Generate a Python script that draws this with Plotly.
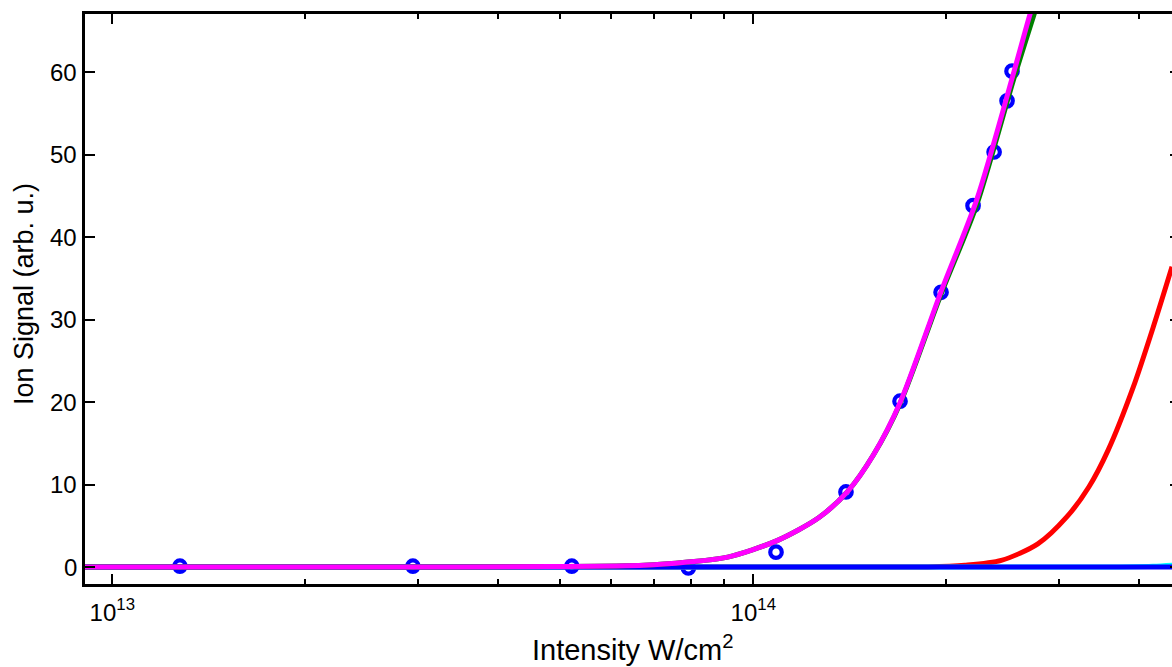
import plotly.graph_objects as go

# ---------------- data ----------------
meas_intensity = [1.275e13, 2.944e13, 5.21e13, 7.92e13, 1.085e14, 1.395e14,
                  1.694e14, 1.963e14, 2.202e14, 2.375e14, 2.488e14, 2.533e14]
meas_signal = [0.1, 0.1, 0.1, -0.1, 1.8, 9.1, 20.1, 33.3, 43.8, 50.3, 56.5, 60.1]

magenta_x = [9.06e12, 2.81e13, 4.81e13, 6.75e13, 7.90e13, 9.12e13, 1.089e14,
             1.266e14, 1.405e14, 1.540e14, 1.694e14, 1.961e14, 2.231e14,
             2.552e14, 2.702e14, 2.852e14]
magenta_y = [0.0, 0.0, 0.05, 0.2, 0.6, 1.2, 3.2, 6.0, 9.2, 13.6, 19.9, 33.3,
             44.5, 60.1, 67.0, 72.8]

green_x = [9.06e12, 2.81e13, 4.81e13, 6.75e13, 7.90e13, 9.12e13, 1.089e14,
           1.266e14, 1.405e14, 1.540e14, 1.694e14, 1.961e14, 2.231e14,
           2.552e14, 2.742e14, 2.852e14]
green_y = [0.0, 0.0, 0.05, 0.2, 0.6, 1.2, 3.2, 6.0, 9.2, 13.6, 19.8, 33.0,
           43.9, 59.3, 67.0, 71.3]

red_x = [9.06e12, 1.873e14, 2.138e14, 2.437e14, 2.779e14, 3.086e14, 3.338e14,
         3.579e14, 3.915e14, 4.207e14, 4.50e14]
red_y = [0.0, 0.0, 0.2, 0.8, 2.8, 6.1, 9.7, 14.2, 21.8, 29.1, 36.4]

cyan_x = [9.06e12, 3.5e14, 4.2e14, 4.65e14]
cyan_y = [0.0, 0.0, 0.1, 0.3]

blue_x = [9.06e12, 4.65e14]
blue_y = [0.0, 0.0]

y_ticks = [0, 10, 20, 30, 40, 50, 60]
x_major = [1e13, 1e14]
x_major_text = ["10<sup>13</sup>", "10<sup>14</sup>"]
x_minor = [2e13, 3e13, 4e13, 5e13, 6e13, 7e13, 8e13, 9e13, 2e14, 3e14, 4e14]

FONT = "Liberation Sans, Arial, Helvetica, sans-serif"

fig = go.Figure()

fig.add_trace(go.Scatter(
    x=meas_intensity, y=meas_signal, mode="markers",
    marker=dict(symbol="circle-open", size=11.5, color="#0000FF",
                line=dict(width=4.2, color="#0000FF")),
    showlegend=False, name="data"))

def curve(x, y, color):
    return go.Scatter(x=x, y=y, mode="lines",
                      line=dict(color=color, width=5, shape="spline",
                                smoothing=0.8),
                      showlegend=False)

fig.add_trace(curve(red_x, red_y, "#FF0000"))
fig.add_trace(curve(cyan_x, cyan_y, "#00FFFF"))
fig.add_trace(curve(blue_x, blue_y, "#0000FF"))
fig.add_trace(curve(green_x, green_y, "#008000"))
fig.add_trace(curve(magenta_x, magenta_y, "#FF00FF"))
# invisible trace so the right-hand tick stubs axis exists
fig.add_trace(go.Scatter(x=meas_intensity[:1], y=meas_signal[:1], yaxis="y2",
                         mode="markers", marker=dict(opacity=0),
                         hoverinfo="skip", showlegend=False))

yr = [-2.06, 67.03]

# y tick labels placed through the y scale, close to the axis as in the reference
ytick_annotations = [
    dict(text=str(v), xref="paper", yref="y", x=-0.0062, y=v,
         xanchor="right", yanchor="middle", showarrow=False, borderpad=0,
         font=dict(family=FONT, size=24, color="black"))
    for v in y_ticks
]

fig.update_layout(
    width=1172, height=667,
    margin=dict(l=85, r=0, t=14, b=83, pad=0),
    paper_bgcolor="white", plot_bgcolor="white",
    font=dict(family=FONT, size=24, color="black"),
    xaxis=dict(
        type="log", range=[12.9574, 14.6532],
        tickmode="array", tickvals=x_major, ticktext=x_major_text,
        ticks="inside", ticklen=10, tickwidth=2, tickcolor="black",
        showline=True, linewidth=2.5, linecolor="black", mirror="ticks",
        showgrid=False, zeroline=False, ticklabelstandoff=5,
        tickfont=dict(family=FONT, size=24, color="black"),
        minor=dict(tickmode="array", tickvals=x_minor, ticks="inside",
                   ticklen=5, tickwidth=2, tickcolor="black", showgrid=False),
    ),
    yaxis=dict(
        range=yr, tickmode="array", tickvals=y_ticks,
        ticks="inside", ticklen=10, tickwidth=2, tickcolor="black",
        showline=True, linewidth=2.5, linecolor="black", mirror=False,
        showgrid=False, zeroline=False, showticklabels=False,
    ),
    yaxis2=dict(
        range=yr, overlaying="y", side="right", anchor="x",
        tickmode="array", tickvals=y_ticks, ticks="inside", ticklen=2,
        tickwidth=2, tickcolor="black", showticklabels=False,
        showline=False, showgrid=False, zeroline=False,
    ),
    annotations=ytick_annotations + [
        dict(text="Intensity W/cm<sup>2</sup>", xref="paper", yref="paper",
             x=0.504, y=-0.0795, xanchor="center", yanchor="top",
             showarrow=False, borderpad=0,
             font=dict(family=FONT, size=29, color="black")),
        dict(text="Ion Signal (arb. u.)", xref="paper", yref="paper",
             x=-0.0561, y=0.5088, xanchor="center", yanchor="middle",
             textangle=-90, showarrow=False, borderpad=0,
             font=dict(family=FONT, size=27, color="black")),
    ],
)

fig.write_html("out.html")
